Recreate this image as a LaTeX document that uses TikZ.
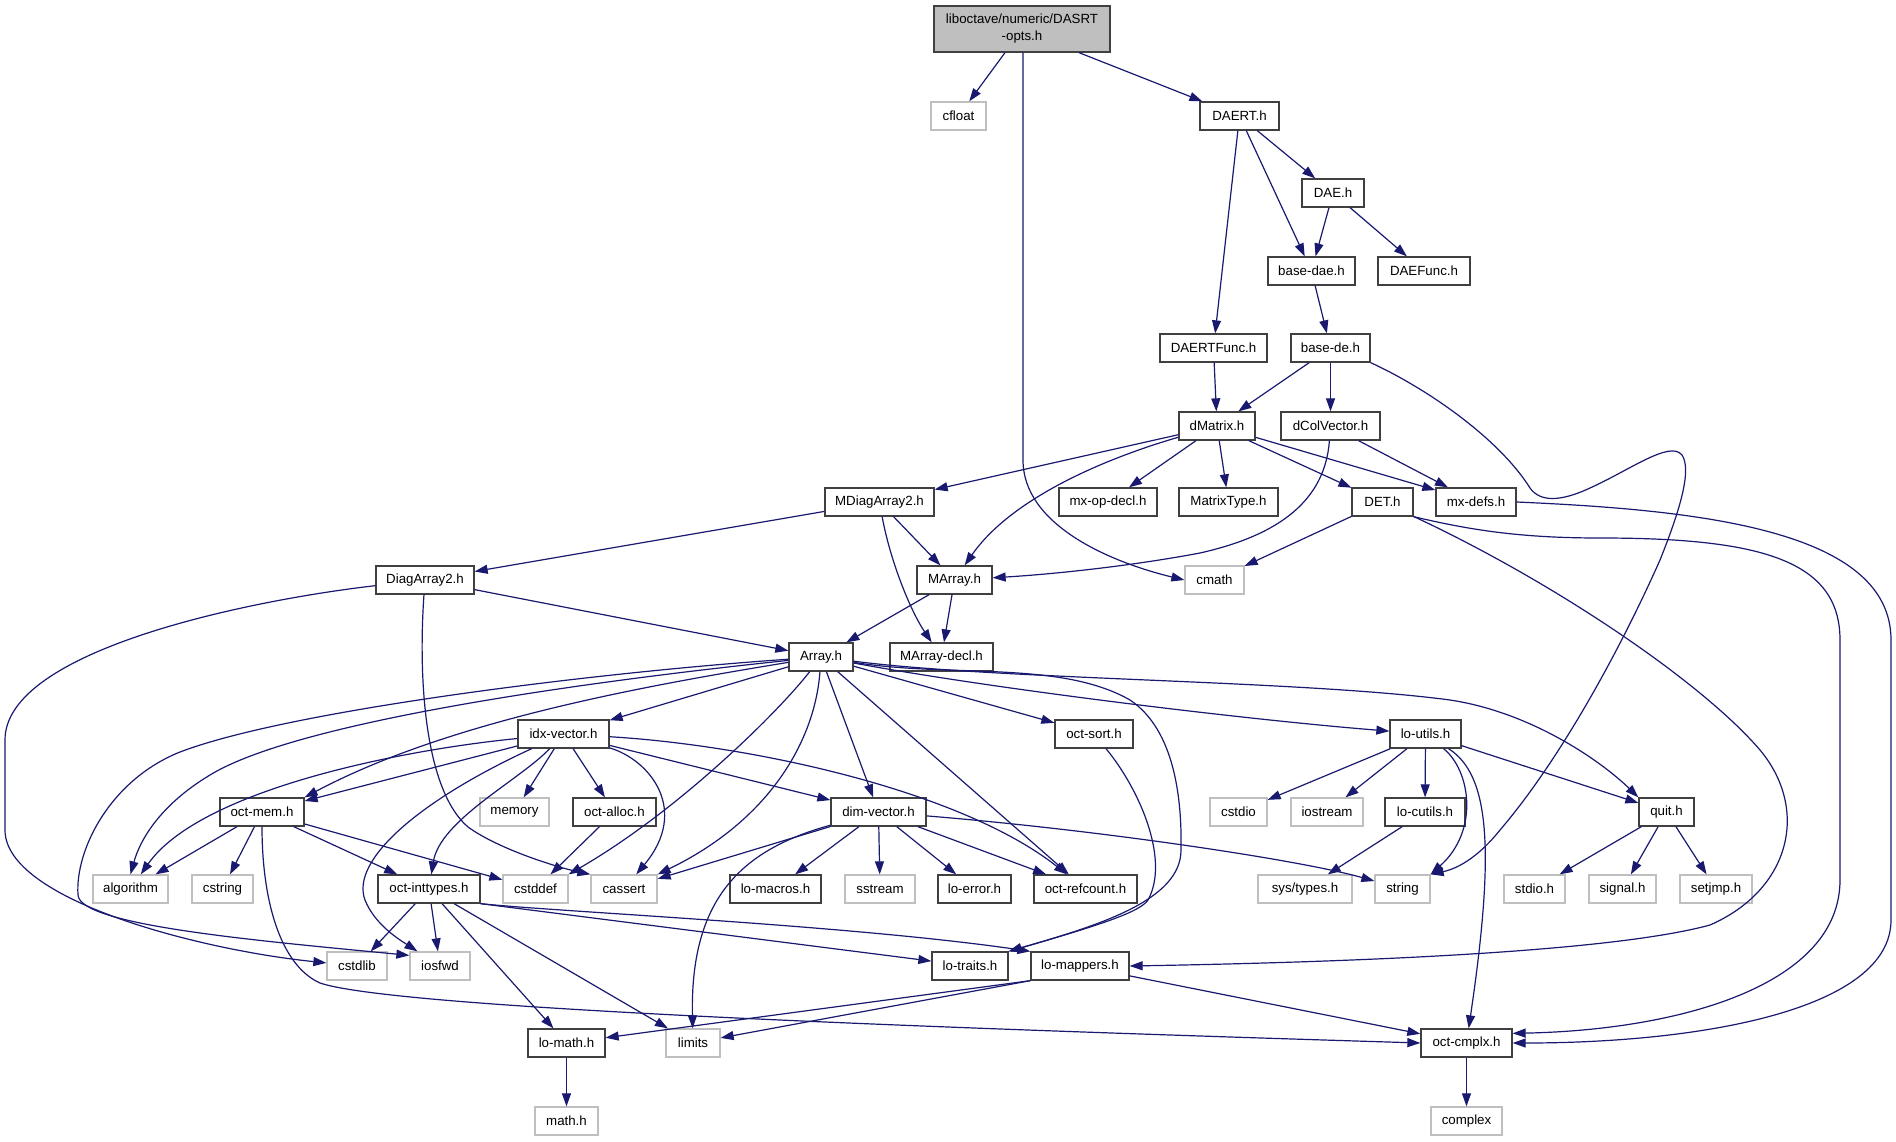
\documentclass[tikz,border=0pt]{standalone}
\usepackage{fontspec}
\setmainfont{Liberation Sans}
\usetikzlibrary{arrows.meta}
\definecolor{edgecol}{HTML}{191970}
\definecolor{boxborder}{HTML}{404040}
\definecolor{sysborder}{HTML}{BFBFBF}
\definecolor{rootfill}{HTML}{BFBFBF}
\begin{document}
\begin{tikzpicture}[x=1pt,y=-1pt,
  hdr/.style={draw=boxborder, fill=white, line width=1.3pt, minimum height=28pt, inner sep=0pt, font=\fontsize{13.3}{17}\selectfont},
  sysh/.style={hdr, draw=sysborder},
  dep/.style={draw=edgecol, line width=1.2pt, -{Triangle[length=13pt,width=9pt]}},
]
\path[fill=white] (0,0) rectangle (1896,1141);
\useasboundingbox (0,0) rectangle (1896,1141);

% nodes
\node[hdr, fill=rootfill, minimum width=176pt, minimum height=46pt, align=center] (root) at (1022,29) {liboctave/numeric/DASRT\\-opts.h};
\node[sysh, minimum width=55pt] (cfloat) at (958.5,116) {cfloat};
\node[hdr, minimum width=79pt] (DAERT) at (1239.5,116) {DAERT.h};
\node[hdr, minimum width=62pt] (DAE) at (1333,193) {DAE.h};
\node[hdr, minimum width=87pt] (basedae) at (1311.5,271) {base-dae.h};
\node[hdr, minimum width=92pt] (DAEFunc) at (1424,271) {DAEFunc.h};
\node[hdr, minimum width=107pt] (DAERTFunc) at (1213.5,348) {DAERTFunc.h};
\node[hdr, minimum width=79pt] (basede) at (1330.5,348) {base-de.h};
\node[hdr, minimum width=76pt] (dMatrix) at (1217,426) {dMatrix.h};
\node[hdr, minimum width=99pt] (dColVector) at (1330.5,426) {dColVector.h};
\node[hdr, minimum width=109pt] (MDiagArray2) at (879.5,502) {MDiagArray2.h};
\node[hdr, minimum width=98pt] (mxopdecl) at (1108,502) {mx-op-decl.h};
\node[hdr, minimum width=99pt] (MatrixType) at (1228.5,502) {MatrixType.h};
\node[hdr, minimum width=61pt] (DET) at (1382.5,502) {DET.h};
\node[hdr, minimum width=80pt] (mxdefs) at (1476,502) {mx-defs.h};
\node[hdr, minimum width=98pt] (DiagArray2) at (425,580) {DiagArray2.h};
\node[hdr, minimum width=75pt] (MArray) at (954.5,580) {MArray.h};
\node[sysh, minimum width=59pt] (cmath) at (1214.5,580) {cmath};
\node[hdr, minimum width=64pt] (Array) at (821,657) {Array.h};
\node[hdr, minimum width=103pt] (MArraydecl) at (941.5,657) {MArray-decl.h};
\node[hdr, minimum width=91pt] (idxvector) at (563.5,734) {idx-vector.h};
\node[hdr, minimum width=78pt] (octsort) at (1094,734) {oct-sort.h};
\node[hdr, minimum width=71pt] (loutils) at (1425.5,734) {lo-utils.h};
\node[hdr, minimum width=84pt] (octmem) at (262,812) {oct-mem.h};
\node[sysh, minimum width=69pt] (memory) at (514.5,812) {memory};
\node[hdr, minimum width=83pt] (octalloc) at (614.5,812) {oct-alloc.h};
\node[hdr, minimum width=95pt] (dimvector) at (878.5,812) {dim-vector.h};
\node[sysh, minimum width=57pt] (cstdio) at (1238.5,812) {cstdio};
\node[sysh, minimum width=72pt] (iostream) at (1327,812) {iostream};
\node[hdr, minimum width=80pt] (locutils) at (1425,812) {lo-cutils.h};
\node[hdr, minimum width=55pt] (quit) at (1666.5,812) {quit.h};
\node[sysh, minimum width=75pt] (algorithm) at (130.5,889) {algorithm};
\node[sysh, minimum width=61pt] (cstring) at (222.5,889) {cstring};
\node[hdr, minimum width=102pt] (octinttypes) at (429,889) {oct-inttypes.h};
\node[sysh, minimum width=65pt] (cstddef) at (535.5,889) {cstddef};
\node[sysh, minimum width=66pt] (cassert) at (624,889) {cassert};
\node[hdr, minimum width=91pt] (lomacros) at (775.5,889) {lo-macros.h};
\node[sysh, minimum width=70pt] (sstream) at (880,889) {sstream};
\node[hdr, minimum width=73pt] (loerror) at (974.5,889) {lo-error.h};
\node[hdr, minimum width=103pt] (octrefcount) at (1085.5,889) {oct-refcount.h};
\node[sysh, minimum width=94pt] (systypes) at (1305,889) {sys/types.h};
\node[sysh, minimum width=55pt] (string) at (1402.5,889) {string};
\node[sysh, minimum width=61pt] (stdioh) at (1534.5,889) {stdio.h};
\node[sysh, minimum width=67pt] (signalh) at (1622.5,889) {signal.h};
\node[sysh, minimum width=72pt] (setjmph) at (1716,889) {setjmp.h};
\node[sysh, minimum width=60pt] (cstdlib) at (357,966) {cstdlib};
\node[sysh, minimum width=60pt] (iosfwd) at (440,966) {iosfwd};
\node[hdr, minimum width=76pt] (lotraits) at (970,966) {lo-traits.h};
\node[hdr, minimum width=98pt] (lomappers) at (1080,966) {lo-mappers.h};
\node[hdr, minimum width=77pt] (lomath) at (566.5,1043) {lo-math.h};
\node[sysh, minimum width=54pt] (limits) at (693,1043) {limits};
\node[hdr, minimum width=91pt] (octcmplx) at (1466.5,1043) {oct-cmplx.h};
\node[sysh, minimum width=63pt] (mathh) at (566.5,1121) {math.h};
\node[sysh, minimum width=71pt] (complex) at (1466.5,1121) {complex};

% edges
\draw[dep] ([xshift=-17pt]root.south) -- (cfloat);
\draw[dep] ([xshift=57pt]root.south) -- (DAERT);
\draw[dep] ([xshift=1pt]root.south) -- (1023,460) .. controls (1023,525) and (1110,562) .. (cmath.west);

\draw[dep] (DAERT) -- (DAE);
\draw[dep] (DAERT) -- (basedae);
\draw[dep] (DAERT) -- (DAERTFunc);
\draw[dep] (DAE) -- (basedae);
\draw[dep] (DAE) -- (DAEFunc);
\draw[dep] (basedae) -- (basede);
\draw[dep] (DAERTFunc) -- (dMatrix);
\draw[dep] (basede) -- (dMatrix);
\draw[dep] (basede) -- (dColVector);
\draw[dep] (basede.south east) .. controls (1430,390) and (1500,440) .. (1530,488) .. controls (1540,502) and (1560,502) .. (1590,488) .. controls (1630,470) and (1670,440) .. (1682,455) .. controls (1692,470) and (1680,510) .. (1660,560) .. controls (1620,650) and (1560,760) .. (1500,830) .. controls (1480,855) and (1460,868) .. (string.north east);

\draw[dep] (dMatrix) -- (MDiagArray2);
\draw[dep] (dMatrix) .. controls (1100,460) and (1010,500) .. (MArray);
\draw[dep] (dMatrix) -- (mxopdecl);
\draw[dep] (dMatrix) -- (MatrixType);
\draw[dep] (dMatrix) -- (DET);
\draw[dep] (dMatrix) -- (mxdefs);
\draw[dep] (dColVector) -- (mxdefs);
\draw[dep] (dColVector) .. controls (1325,500) and (1280,535) .. (1200,553) .. controls (1120,568) and (1040,575) .. (MArray);

\draw[dep] (MDiagArray2) -- (DiagArray2);
\draw[dep] (MDiagArray2) -- (MArray);
\draw[dep] (MDiagArray2) .. controls (890,560) and (910,610) .. (MArraydecl);

\draw[dep] (DET) -- (cmath);
\draw[dep] (DET.south east) .. controls (1470,530) and (1520,538) .. (1600,538) .. controls (1760,538) and (1840,560) .. (1840,640) -- (1840,880) .. controls (1840,985) and (1680,1030) .. ([yshift=-5pt]octcmplx.north east);
\draw[dep] (DET) .. controls (1550,580) and (1700,680) .. (1760,750) .. controls (1810,810) and (1790,890) .. (1710,925) .. controls (1600,955) and (1300,963) .. (lomappers.east);
\draw[dep] (mxdefs.east) .. controls (1700,510) and (1891,530) .. (1891,640) -- (1891,920) .. controls (1891,1010) and (1700,1043) .. (octcmplx.east);

\draw[dep] (MArray) -- (Array);
\draw[dep] (MArray) -- (MArraydecl);

\draw[dep] (DiagArray2) -- (Array);
\draw[dep] (DiagArray2) .. controls (418,680) and (425,790) .. (468,827) .. controls (500,850) and (560,868) .. (cassert.north west);
\draw[dep] (DiagArray2) .. controls (250,600) and (5,650) .. (5,740) -- (5,830) .. controls (5,900) and (200,950) .. (cstdlib);

\draw[dep] (Array) -- (idxvector);
\draw[dep] (Array) .. controls (650,685) and (450,720) .. (octmem.north east);
\draw[dep] (Array) .. controls (600,680) and (300,720) .. (210,775) .. controls (160,805) and (140,840) .. (algorithm.north);
\draw[dep] (Array) .. controls (600,672) and (290,710) .. (180,752) .. controls (110,780) and (75,850) .. (78,895) .. controls (80,925) and (250,940) .. ([yshift=-4pt]iosfwd.north west);
\draw[dep] (Array) .. controls (780,710) and (680,810) .. (cstddef.north east);
\draw[dep] (Array) .. controls (815,740) and (770,820) .. (cassert.north east);
\draw[dep] (Array) -- (dimvector);
\draw[dep] (Array) -- (octrefcount);
\draw[dep] (Array) -- (octsort);
\draw[dep] (Array) .. controls (1000,690) and (1250,720) .. (loutils);
\draw[dep] (Array) .. controls (1000,680) and (1300,680) .. (1450,700) .. controls (1530,712) and (1600,760) .. (quit.north west);
\draw[dep] (Array) .. controls (950,678) and (1060,660) .. (1130,700) .. controls (1175,730) and (1182,800) .. (1181,850) .. controls (1181,900) and (1100,925) .. (lotraits.north east);
\draw[dep] (octsort) .. controls (1140,790) and (1170,860) .. (1148,900) .. controls (1140,912) and (1100,925) .. (lotraits.north east);

\draw[dep] (idxvector) .. controls (400,750) and (200,790) .. (algorithm);
\draw[dep] (idxvector) -- (octmem);
\draw[dep] (idxvector) .. controls (420,800) and (350,860) .. (365,900) .. controls (375,925) and (400,940) .. (iosfwd);
\draw[dep] (idxvector) .. controls (520,780) and (440,820) .. (octinttypes);
\draw[dep] (idxvector) -- (memory);
\draw[dep] (idxvector) -- (octalloc);
\draw[dep] (idxvector) .. controls (650,760) and (690,810) .. (cassert);
\draw[dep] (idxvector) -- (dimvector);
\draw[dep] (idxvector) .. controls (750,745) and (960,790) .. (octrefcount);

\draw[dep] (octalloc) -- (cstddef);

\draw[dep] (octmem) -- (algorithm);
\draw[dep] (octmem) -- (cstring);
\draw[dep] (octmem) -- (octinttypes);
\draw[dep] (octmem) -- (cstddef);
\draw[dep] (octmem) .. controls (262,900) and (280,965) .. (320,983) .. controls (400,1010) and (1000,1030) .. (octcmplx.west);

\draw[dep] (octinttypes) -- (cstdlib);
\draw[dep] (octinttypes) -- (iosfwd);
\draw[dep] (octinttypes) -- (lomath);
\draw[dep] (octinttypes) -- (limits);
\draw[dep] (octinttypes.south east) -- (lotraits);
\draw[dep] (octinttypes.south east) .. controls (560,912) and (850,925) .. (lomappers.north west);

\draw[dep] (dimvector) -- (cassert);
\draw[dep] (dimvector) .. controls (740,850) and (690,900) .. (limits);
\draw[dep] (dimvector) -- (lomacros);
\draw[dep] (dimvector) -- (sstream);
\draw[dep] (dimvector) -- (loerror);
\draw[dep] (dimvector) -- (octrefcount);
\draw[dep] (dimvector) .. controls (1100,830) and (1300,860) .. (string);

\draw[dep] (loutils) -- (cstdio);
\draw[dep] (loutils) -- (iostream);
\draw[dep] (loutils) -- (locutils);
\draw[dep] (loutils) .. controls (1470,770) and (1480,830) .. (string.north east);
\draw[dep] (loutils) .. controls (1490,775) and (1495,850) .. (octcmplx);
\draw[dep] (loutils) -- (quit);

\draw[dep] (locutils) -- (systypes);
\draw[dep] (quit) -- (stdioh);
\draw[dep] (quit) -- (signalh);
\draw[dep] (quit) -- (setjmph);
\draw[dep] (octcmplx) -- (complex);
\draw[dep] (lomath) -- (mathh);
\draw[dep] (lomappers.south west) -- (lomath);
\draw[dep] (lomappers.south west) -- (limits);
\draw[dep] (lomappers) -- (octcmplx);
\end{tikzpicture}
\end{document}
